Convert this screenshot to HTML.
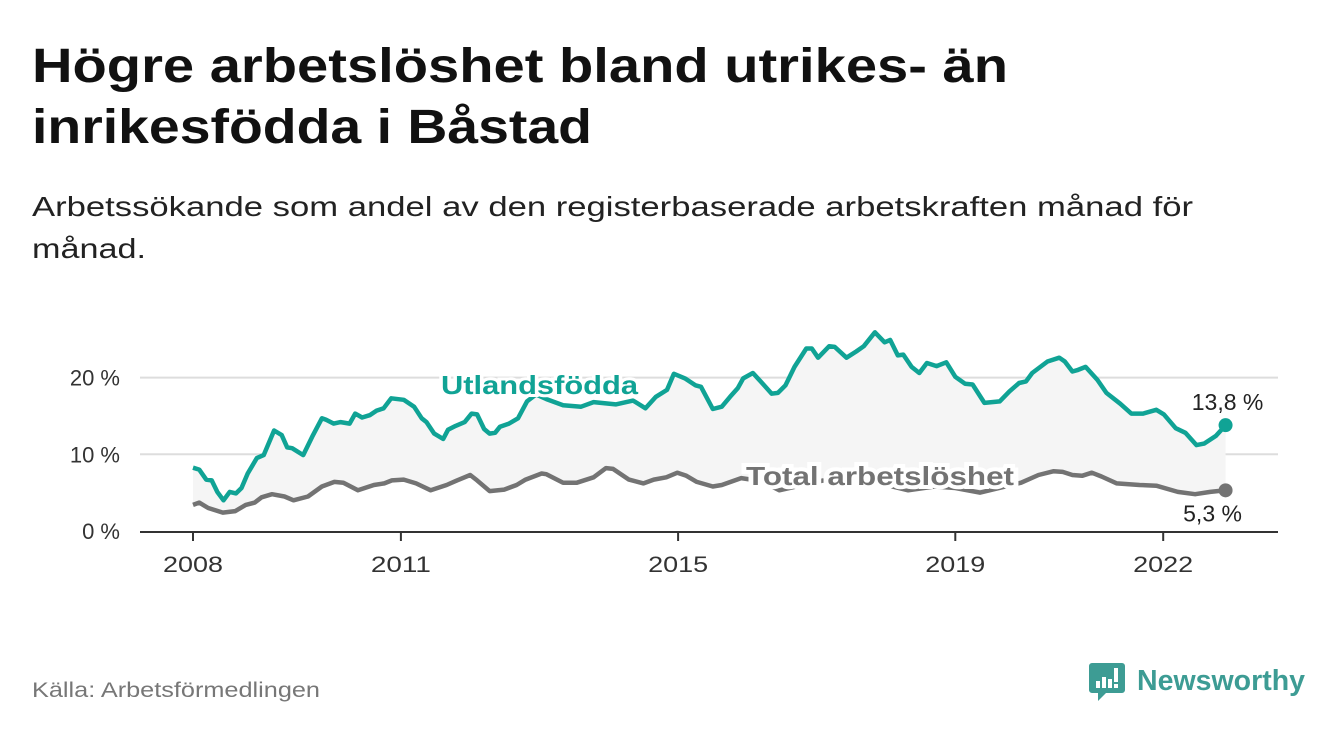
<!DOCTYPE html>
<html><head><meta charset="utf-8"><style>
body{margin:0;background:#fff;}
svg{display:block;font-family:"Liberation Sans",sans-serif;}
</style></head><body>
<svg id="c" width="1340" height="734" viewBox="0 0 1340 734">
<text x="32" y="82" font-size="48" font-weight="bold" fill="#111" textLength="976" lengthAdjust="spacingAndGlyphs">Högre arbetslöshet bland utrikes- än</text>
<text x="32" y="143" font-size="48" font-weight="bold" fill="#111" textLength="560" lengthAdjust="spacingAndGlyphs">inrikesfödda i Båstad</text>
<text x="32" y="216" font-size="28" fill="#222" textLength="1161" lengthAdjust="spacingAndGlyphs">Arbetssökande som andel av den registerbaserade arbetskraften månad för</text>
<text x="32" y="258" font-size="28" fill="#222" textLength="114" lengthAdjust="spacingAndGlyphs">månad.</text>
<g id="grid"></g><g id="area"></g><g id="lines"></g><g id="labels"></g>
<text x="32" y="697" font-size="21" fill="#777" textLength="288" lengthAdjust="spacingAndGlyphs">Källa: Arbetsförmedlingen</text>
<g>
<path d="M1092 663 h30 a3 3 0 0 1 3 3 v24 a3 3 0 0 1 -3 3 h-16 l-8 8 v-8 h-6 a3 3 0 0 1 -3 -3 v-24 a3 3 0 0 1 3 -3z" fill="#3d9c94"/>
<rect x="1096" y="681" width="4" height="7" fill="#fff"/><rect x="1102" y="677" width="4" height="11" fill="#fff"/><rect x="1108" y="679" width="4" height="9" fill="#fff"/><rect x="1114" y="668" width="4" height="14" fill="#fff"/><rect x="1114" y="684" width="4" height="4" fill="#fff"/>
<text x="1137" y="690" font-size="29" font-weight="bold" fill="#3d9c94" textLength="168" lengthAdjust="spacingAndGlyphs">Newsworthy</text>
</g>
</svg>
<script>
const tickYears=[2008,2011,2015,2019,2022];
const yTicks=[0,10,20];
const utlT=[2008.0,2008.09,2008.19,2008.27,2008.35,2008.44,2008.53,2008.62,2008.70,2008.79,2008.92,2009.02,2009.17,2009.28,2009.36,2009.43,2009.59,2009.72,2009.86,2009.92,2010.03,2010.13,2010.26,2010.34,2010.44,2010.55,2010.65,2010.75,2010.86,2011.04,2011.19,2011.30,2011.37,2011.48,2011.61,2011.68,2011.79,2011.92,2012.02,2012.10,2012.20,2012.28,2012.36,2012.43,2012.56,2012.69,2012.82,2012.95,2013.1,2013.34,2013.60,2013.78,2014.1,2014.35,2014.53,2014.68,2014.84,2014.94,2015.10,2015.25,2015.33,2015.50,2015.63,2015.75,2015.86,2015.94,2016.08,2016.19,2016.35,2016.44,2016.55,2016.68,2016.85,2016.93,2017.02,2017.18,2017.26,2017.43,2017.57,2017.68,2017.84,2017.98,2018.06,2018.17,2018.25,2018.37,2018.48,2018.59,2018.73,2018.87,2019.00,2019.14,2019.25,2019.42,2019.64,2019.78,2019.92,2020.02,2020.11,2020.33,2020.50,2020.58,2020.69,2020.77,2020.88,2021.05,2021.18,2021.38,2021.54,2021.71,2021.90,2022.01,2022.18,2022.32,2022.48,2022.59,2022.76,2022.90];
const utlV=[8.25,8.0,6.7,6.6,5.1,4.0,5.1,4.9,5.6,7.5,9.5,9.9,13.1,12.5,10.9,10.8,9.9,12.3,14.7,14.5,14.0,14.2,14.0,15.3,14.8,15.1,15.7,16.0,17.3,17.1,16.2,14.7,14.2,12.7,12.0,13.2,13.7,14.2,15.3,15.2,13.3,12.7,12.8,13.6,14.0,14.7,16.9,17.8,17.2,16.4,16.2,16.8,16.5,17.0,16.0,17.5,18.4,20.5,19.9,19.0,18.8,15.9,16.2,17.5,18.6,19.9,20.6,19.5,17.9,18.0,19.0,21.4,23.8,23.8,22.6,24.1,24.0,22.6,23.4,24.1,25.9,24.6,24.9,22.9,23.0,21.4,20.6,21.9,21.5,22.0,20.1,19.2,19.1,16.7,16.9,18.2,19.3,19.5,20.6,22.1,22.6,22.1,20.8,21.0,21.4,19.7,18.0,16.6,15.3,15.3,15.8,15.2,13.4,12.8,11.2,11.4,12.4,13.8];
const totT=[2008.0,2008.09,2008.22,2008.43,2008.61,2008.76,2008.89,2008.99,2009.14,2009.32,2009.45,2009.66,2009.86,2010.04,2010.17,2010.38,2010.61,2010.76,2010.87,2011.04,2011.22,2011.43,2011.66,2011.81,2012.0,2012.1,2012.28,2012.49,2012.67,2012.8,2013.03,2013.1,2013.34,2013.54,2013.78,2013.96,2014.06,2014.29,2014.5,2014.65,2014.83,2014.99,2015.12,2015.27,2015.5,2015.63,2015.91,2016.2,2016.46,2016.8,2017.2,2017.6,2018.0,2018.32,2018.7,2019.0,2019.36,2019.95,2020.2,2020.42,2020.55,2020.69,2020.83,2020.97,2021.11,2021.33,2021.66,2021.9,2022.21,2022.46,2022.68,2022.9];
const totV=[3.4,3.7,3.0,2.4,2.6,3.4,3.7,4.4,4.8,4.5,4.0,4.5,5.8,6.4,6.3,5.3,6.0,6.2,6.6,6.7,6.2,5.3,6.0,6.6,7.3,6.6,5.2,5.4,6.0,6.7,7.5,7.4,6.3,6.3,7.0,8.2,8.1,6.7,6.2,6.7,7.0,7.6,7.2,6.4,5.8,6.0,6.9,6.5,5.3,6.0,6.8,6.5,6.0,5.3,5.8,5.6,5.0,6.3,7.3,7.8,7.7,7.3,7.2,7.6,7.1,6.2,6.0,5.9,5.1,4.8,5.1,5.3];
const X=t=>193+(t-2008)*69.3;
const Y=v=>531-v*7.67;
const NS='http://www.w3.org/2000/svg';
function mk(tag,attrs,parent){const e=document.createElementNS(NS,tag);for(const k in attrs)e.setAttribute(k,attrs[k]);parent.appendChild(e);return e;}
const grid=document.getElementById('grid');
yTicks.forEach(v=>{
 if(v>0){const l=mk('line',{x1:140,x2:1278,y1:Y(v),y2:Y(v),stroke:'#ddd','stroke-width':2},grid);
 
 }
 const t=mk('text',{x:120,y:Y(v)+8,'text-anchor':'end','font-size':22,fill:'#333'},grid);
 t.textContent=v+' %';
 
 
});
const ax=mk('line',{x1:140,x2:1278,y1:532,y2:532,stroke:'#333','stroke-width':2},grid);


tickYears.forEach(y=>{
 mk('line',{x1:X(y),x2:X(y),y1:532,y2:541,stroke:'#333','stroke-width':2},grid);
 const t=mk('text',{x:X(y),y:572,'text-anchor':'middle','font-size':22,fill:'#333',textLength:60,lengthAdjust:'spacingAndGlyphs'},grid);
 t.textContent=y;
 
 
});
const up=utlT.map((t,i)=>X(t).toFixed(1)+','+Y(utlV[i]).toFixed(1));
const tp=totT.map((t,i)=>X(t).toFixed(1)+','+Y(totV[i]).toFixed(1));
const ar=mk('path',{d:'M'+up.join('L')+'L'+tp.slice().reverse().join('L')+'Z',fill:'#f5f5f5'},document.getElementById('area'));


const lines=document.getElementById('lines');
const l1=mk('path',{d:'M'+up.join('L'),fill:'none',stroke:'#10a395','stroke-width':4.5,'stroke-linejoin':'round'},lines);


const l2=mk('path',{d:'M'+tp.join('L'),fill:'none',stroke:'#737373','stroke-width':4.5,'stroke-linejoin':'round'},lines);


const lu=utlT.length-1, lt=totT.length-1;
const d1=mk('circle',{cx:X(utlT[lu]),cy:Y(utlV[lu]),r:7,fill:'#10a395'},lines);


const d2=mk('circle',{cx:X(totT[lt]),cy:Y(totV[lt]),r:7,fill:'#737373'},lines);


const lab=document.getElementById('labels');
const fmt=v=>v.toFixed(1).replace('.',',')+' %';
const v1=mk('text',{x:X(utlT[lu])+2,y:Y(utlV[lu])-15,'text-anchor':'middle','font-size':23,fill:'#222'},lab);
v1.textContent=fmt(utlV[lu]);


const v2=mk('text',{x:X(totT[lt])-13,y:Y(totV[lt])+31,'text-anchor':'middle','font-size':23,fill:'#222'},lab);
v2.textContent=fmt(totV[lt]);


const s1=mk('text',{x:441,y:394,'font-size':26,'font-weight':'bold',fill:'#10a395',stroke:'#fff','stroke-width':6,'paint-order':'stroke',textLength:197,lengthAdjust:'spacingAndGlyphs'},lab);
s1.textContent='Utlandsfödda';


const s2=mk('text',{x:746,y:485,'font-size':26,'font-weight':'bold',fill:'#737373',stroke:'#fff','stroke-width':8,'paint-order':'stroke',textLength:268,lengthAdjust:'spacingAndGlyphs'},lab);
s2.textContent='Total arbetslöshet';


</script>
</body></html>
